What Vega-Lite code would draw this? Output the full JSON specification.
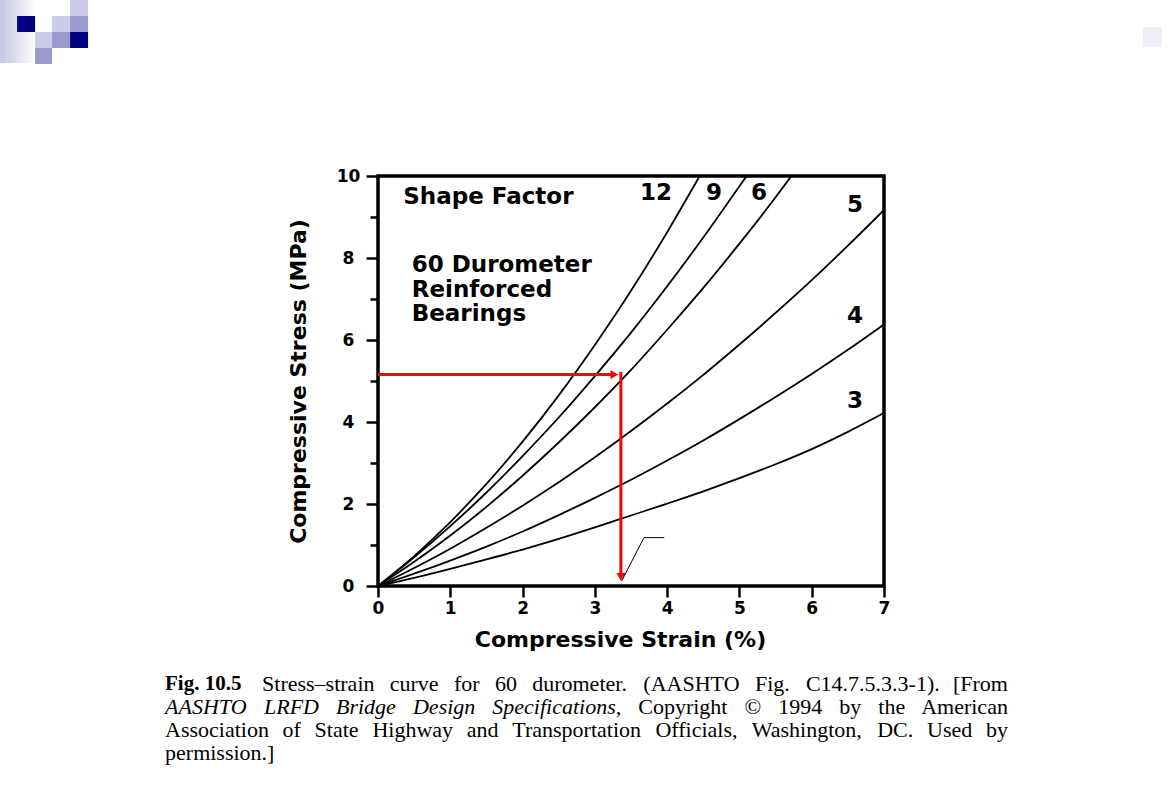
{
  "$schema": "https://vega.github.io/schema/vega-lite/v6.json",
  "width": 506,
  "height": 410,
  "autosize": {"type": "none"},
  "padding": {"left": 378, "top": 176, "right": 286, "bottom": 224},
  "background": "white",
  "config": {
    "view": {"stroke": "black", "strokeWidth": 3.5},
    "font": "DejaVu Sans"
  },
  "datasets": {
    "curves": [
      {"sf": "12", "x": 0, "y": 0}, {"sf": "12", "x": 0.5, "y": 0.73}, {"sf": "12", "x": 1, "y": 1.56}, {"sf": "12", "x": 1.5, "y": 2.49}, {"sf": "12", "x": 2, "y": 3.52}, {"sf": "12", "x": 2.5, "y": 4.65}, {"sf": "12", "x": 3, "y": 5.88}, {"sf": "12", "x": 3.5, "y": 7.2}, {"sf": "12", "x": 4, "y": 8.63}, {"sf": "12", "x": 4.45, "y": 10},
      {"sf": "9", "x": 0, "y": 0}, {"sf": "9", "x": 0.5, "y": 0.7}, {"sf": "9", "x": 1, "y": 1.46}, {"sf": "9", "x": 1.5, "y": 2.28}, {"sf": "9", "x": 2, "y": 3.17}, {"sf": "9", "x": 2.5, "y": 4.11}, {"sf": "9", "x": 3, "y": 5.12}, {"sf": "9", "x": 3.5, "y": 6.18}, {"sf": "9", "x": 4, "y": 7.31}, {"sf": "9", "x": 4.5, "y": 8.5}, {"sf": "9", "x": 5, "y": 9.75}, {"sf": "9", "x": 5.1, "y": 10},
      {"sf": "6", "x": 0, "y": 0}, {"sf": "6", "x": 0.5, "y": 0.59}, {"sf": "6", "x": 1, "y": 1.23}, {"sf": "6", "x": 1.5, "y": 1.93}, {"sf": "6", "x": 2, "y": 2.69}, {"sf": "6", "x": 2.5, "y": 3.5}, {"sf": "6", "x": 3, "y": 4.36}, {"sf": "6", "x": 3.5, "y": 5.27}, {"sf": "6", "x": 4, "y": 6.25}, {"sf": "6", "x": 4.5, "y": 7.27}, {"sf": "6", "x": 5, "y": 8.35}, {"sf": "6", "x": 5.5, "y": 9.48}, {"sf": "6", "x": 5.72, "y": 10},
      {"sf": "5", "x": 0, "y": 0}, {"sf": "5", "x": 0.5, "y": 0.44}, {"sf": "5", "x": 1, "y": 0.91}, {"sf": "5", "x": 1.5, "y": 1.42}, {"sf": "5", "x": 2, "y": 1.96}, {"sf": "5", "x": 2.5, "y": 2.53}, {"sf": "5", "x": 3, "y": 3.14}, {"sf": "5", "x": 3.5, "y": 3.78}, {"sf": "5", "x": 4, "y": 4.45}, {"sf": "5", "x": 4.5, "y": 5.15}, {"sf": "5", "x": 5, "y": 5.89}, {"sf": "5", "x": 5.5, "y": 6.66}, {"sf": "5", "x": 6, "y": 7.46}, {"sf": "5", "x": 6.5, "y": 8.3}, {"sf": "5", "x": 7, "y": 9.17},
      {"sf": "4", "x": 0, "y": 0}, {"sf": "4", "x": 0.5, "y": 0.3}, {"sf": "4", "x": 1, "y": 0.62}, {"sf": "4", "x": 1.5, "y": 0.96}, {"sf": "4", "x": 2, "y": 1.33}, {"sf": "4", "x": 2.5, "y": 1.73}, {"sf": "4", "x": 3, "y": 2.15}, {"sf": "4", "x": 3.5, "y": 2.59}, {"sf": "4", "x": 4, "y": 3.06}, {"sf": "4", "x": 4.5, "y": 3.55}, {"sf": "4", "x": 5, "y": 4.07}, {"sf": "4", "x": 5.5, "y": 4.61}, {"sf": "4", "x": 6, "y": 5.17}, {"sf": "4", "x": 6.5, "y": 5.76}, {"sf": "4", "x": 7, "y": 6.38},
      {"sf": "3", "x": 0, "y": 0}, {"sf": "3", "x": 0.5, "y": 0.2}, {"sf": "3", "x": 1, "y": 0.42}, {"sf": "3", "x": 1.5, "y": 0.65}, {"sf": "3", "x": 2, "y": 0.89}, {"sf": "3", "x": 2.5, "y": 1.15}, {"sf": "3", "x": 3, "y": 1.43}, {"sf": "3", "x": 3.5, "y": 1.72}, {"sf": "3", "x": 4, "y": 2.01}, {"sf": "3", "x": 4.5, "y": 2.31}, {"sf": "3", "x": 5, "y": 2.63}, {"sf": "3", "x": 5.5, "y": 2.97}, {"sf": "3", "x": 6, "y": 3.34}, {"sf": "3", "x": 6.5, "y": 3.76}, {"sf": "3", "x": 7, "y": 4.22}
    ],
    "strip": [{"x": -5.228, "x2": -4.73, "y": 14.293, "y2": 12.756}],
    "squares": [
      {"tone": "light", "x": -4.26, "x2": -4.011, "y": 14.293, "y2": 13.902},
      {"tone": "navy", "x": -4.993, "x2": -4.744, "y": 13.902, "y2": 13.512},
      {"tone": "light", "x": -4.509, "x2": -4.26, "y": 13.902, "y2": 13.512},
      {"tone": "medium", "x": -4.26, "x2": -4.011, "y": 13.902, "y2": 13.512},
      {"tone": "light", "x": -4.744, "x2": -4.509, "y": 13.512, "y2": 13.122},
      {"tone": "medium", "x": -4.509, "x2": -4.26, "y": 13.512, "y2": 13.122},
      {"tone": "navy", "x": -4.26, "x2": -4.011, "y": 13.512, "y2": 13.122},
      {"tone": "medium", "x": -4.744, "x2": -4.509, "y": 13.122, "y2": 12.732},
      {"tone": "faint", "x": 10.581, "x2": 10.844, "y": 13.634, "y2": 13.146}
    ],
    "redRules": [
      {"x": 0, "x2": 3.28, "y": 5.16, "y2": 5.16},
      {"x": 3.36, "x2": 3.36, "y": 5.22, "y2": 0.3}
    ],
    "arrowHeads": [
      {"dir": "right", "x": 3.27, "y": 5.16},
      {"dir": "down", "x": 3.36, "y": 0.22}
    ],
    "leader": [
      {"x": 3.37, "y": 0.12}, {"x": 3.68, "y": 1.18}, {"x": 3.96, "y": 1.18}
    ],
    "plotTextLeft": [
      {"t": "Shape Factor", "x": 0.35, "y": 9.5},
      {"t": "60 Durometer", "x": 0.466, "y": 7.83},
      {"t": "Reinforced", "x": 0.466, "y": 7.22},
      {"t": "Bearings", "x": 0.466, "y": 6.63}
    ],
    "plotTextCenter": [
      {"t": "12", "x": 3.845, "y": 9.58},
      {"t": "9", "x": 4.647, "y": 9.58},
      {"t": "6", "x": 5.27, "y": 9.58},
      {"t": "5", "x": 6.6, "y": 9.29},
      {"t": "4", "x": 6.6, "y": 6.585},
      {"t": "3", "x": 6.6, "y": 4.52}
    ],
    "capBold": [{"t": "Fig. 10.5", "x": -2.946, "y": -2.402}],
    "capItalic": [
      {"t": "AASHTO", "x": -2.946, "y": -2.951},
      {"t": "LRFD", "x": -1.577, "y": -2.951},
      {"t": "Bridge", "x": -0.581, "y": -2.951},
      {"t": "Design", "x": 0.484, "y": -2.951},
      {"t": "Specifications,", "x": 1.581, "y": -2.951}
    ],
    "capLeft": [
      {"t": "Stress–strain", "x": -1.604, "y": -2.402},
      {"t": "curve", "x": 0.162, "y": -2.402},
      {"t": "for", "x": 1.05, "y": -2.402},
      {"t": "60", "x": 1.617, "y": -2.402},
      {"t": "durometer.", "x": 2.133, "y": -2.402},
      {"t": "(AASHTO", "x": 3.671, "y": -2.402},
      {"t": "Fig.", "x": 5.214, "y": -2.402},
      {"t": "C14.7.5.3.3-1).", "x": 5.92, "y": -2.402},
      {"t": "Copyright", "x": 3.6, "y": -2.951},
      {"t": "©", "x": 5.069, "y": -2.951},
      {"t": "1994", "x": 5.537, "y": -2.951},
      {"t": "by", "x": 6.38, "y": -2.951},
      {"t": "the", "x": 6.921, "y": -2.951},
      {"t": "Association", "x": -2.946, "y": -3.512},
      {"t": "of", "x": -1.32, "y": -3.512},
      {"t": "State", "x": -0.877, "y": -3.512},
      {"t": "Highway", "x": -0.077, "y": -3.512},
      {"t": "and", "x": 1.228, "y": -3.512},
      {"t": "Transportation", "x": 1.858, "y": -3.512},
      {"t": "Officials,", "x": 3.838, "y": -3.512},
      {"t": "Washington,", "x": 5.17, "y": -3.512},
      {"t": "DC.", "x": 6.906, "y": -3.512},
      {"t": "Used", "x": 7.595, "y": -3.512},
      {"t": "permission.]", "x": -2.946, "y": -4.073}
    ],
    "capRight": [
      {"t": "[From", "x": 8.714, "y": -2.402},
      {"t": "American", "x": 8.714, "y": -2.951},
      {"t": "by", "x": 8.714, "y": -3.512}
    ]
  },
  "layer": [
    {
      "data": {"name": "curves"},
      "mark": {"type": "line", "color": "black", "strokeWidth": 1.8, "interpolate": "monotone"},
      "encoding": {
        "x": {
          "field": "x", "type": "quantitative",
          "scale": {"domain": [0, 7], "nice": false, "zero": false},
          "axis": {
            "title": "Compressive Strain (%)",
            "values": [0, 0.5, 1, 1.5, 2, 2.5, 3, 3.5, 4, 4.5, 5, 5.5, 6, 6.5, 7],
            "labelExpr": "datum.value % 1 === 0 ? format(datum.value, 'd') : ''",
            "domain": false, "grid": false,
            "tickColor": "black", "tickWidth": 2.5,
            "tickSize": {"condition": {"test": "datum.value % 1 === 0", "value": 11}, "value": 7},
            "labelPadding": 3,
            "labelFont": "DejaVu Sans", "labelFontWeight": "bold", "labelFontSize": 17, "labelColor": "black",
            "labelFlush": false, "labelOverlap": false, "labelBound": false,
            "titleFont": "DejaVu Sans", "titleFontWeight": "bold", "titleFontSize": 22, "titleColor": "black",
            "titlePadding": 13, "titleX": 242, "titleAlign": "center"
          }
        },
        "y": {
          "field": "y", "type": "quantitative",
          "scale": {"domain": [0, 10], "nice": false, "zero": false},
          "axis": {
            "title": "Compressive Stress (MPa)",
            "values": [0, 1, 2, 3, 4, 5, 6, 7, 8, 9, 10],
            "labelExpr": "datum.value % 2 === 0 ? format(datum.value, 'd') : ''",
            "domain": false, "grid": false,
            "tickColor": "black", "tickWidth": 2.5,
            "tickSize": {"condition": {"test": "datum.value % 2 === 0", "value": 12}, "value": 8},
            "labelAlign": "center", "labelBaseline": "middle", "labelPadding": 18,
            "labelFont": "DejaVu Sans", "labelFontWeight": "bold", "labelFontSize": 17, "labelColor": "black",
            "labelFlush": false, "labelOverlap": false, "labelBound": false,
            "titleFont": "DejaVu Sans", "titleFontWeight": "bold", "titleFontSize": 22, "titleColor": "black",
            "titlePadding": 26
          }
        },
        "detail": {"field": "sf", "type": "nominal"}
      }
    },
    {
      "data": {"name": "strip"},
      "mark": {"type": "rect", "fill": {"gradient": "linear", "x1": 0, "y1": 0, "x2": 1, "y2": 0, "stops": [{"offset": 0, "color": "#c4c4e3"}, {"offset": 1, "color": "#ffffff"}]}, "strokeWidth": 0},
      "encoding": {
        "x": {"field": "x", "type": "quantitative"},
        "x2": {"field": "x2"},
        "y": {"field": "y", "type": "quantitative"},
        "y2": {"field": "y2"}
      }
    },
    {
      "data": {"name": "squares"},
      "mark": {"type": "rect", "strokeWidth": 0},
      "encoding": {
        "x": {"field": "x", "type": "quantitative"},
        "x2": {"field": "x2"},
        "y": {"field": "y", "type": "quantitative"},
        "y2": {"field": "y2"},
        "color": {"field": "tone", "type": "nominal", "legend": null,
          "scale": {"domain": ["navy", "medium", "light", "faint"], "range": ["#000080", "#9999cc", "#ccccea", "#eeeef5"]}}
      }
    },
    {
      "data": {"name": "redRules"},
      "mark": {"type": "rule", "color": "#ff0000", "strokeWidth": 3},
      "encoding": {
        "x": {"field": "x", "type": "quantitative"},
        "x2": {"field": "x2"},
        "y": {"field": "y", "type": "quantitative"},
        "y2": {"field": "y2"}
      }
    },
    {
      "data": {"name": "arrowHeads"},
      "mark": {"type": "point", "filled": true, "color": "#ff0000", "opacity": 1, "size": 80},
      "encoding": {
        "x": {"field": "x", "type": "quantitative"},
        "y": {"field": "y", "type": "quantitative"},
        "shape": {"field": "dir", "type": "nominal", "legend": null,
          "scale": {"domain": ["right", "down"], "range": ["triangle-right", "triangle-down"]}}
      }
    },
    {
      "data": {"name": "leader"},
      "mark": {"type": "line", "color": "black", "strokeWidth": 1},
      "encoding": {
        "x": {"field": "x", "type": "quantitative"},
        "y": {"field": "y", "type": "quantitative"}
      }
    },
    {
      "data": {"name": "plotTextLeft"},
      "mark": {"type": "text", "align": "left", "baseline": "middle", "font": "DejaVu Sans", "fontWeight": "bold", "fontSize": 23, "color": "black"},
      "encoding": {
        "x": {"field": "x", "type": "quantitative"},
        "y": {"field": "y", "type": "quantitative"},
        "text": {"field": "t"}
      }
    },
    {
      "data": {"name": "plotTextCenter"},
      "mark": {"type": "text", "align": "center", "baseline": "middle", "font": "DejaVu Sans", "fontWeight": "bold", "fontSize": 23, "color": "black"},
      "encoding": {
        "x": {"field": "x", "type": "quantitative"},
        "y": {"field": "y", "type": "quantitative"},
        "text": {"field": "t"}
      }
    },
    {
      "data": {"name": "capBold"},
      "mark": {"type": "text", "align": "left", "baseline": "middle", "font": "Liberation Serif", "fontWeight": "bold", "fontSize": 21, "color": "black"},
      "encoding": {
        "x": {"field": "x", "type": "quantitative"},
        "y": {"field": "y", "type": "quantitative"},
        "text": {"field": "t"}
      }
    },
    {
      "data": {"name": "capItalic"},
      "mark": {"type": "text", "align": "left", "baseline": "middle", "font": "Liberation Serif", "fontStyle": "italic", "fontSize": 22, "color": "black"},
      "encoding": {
        "x": {"field": "x", "type": "quantitative"},
        "y": {"field": "y", "type": "quantitative"},
        "text": {"field": "t"}
      }
    },
    {
      "data": {"name": "capLeft"},
      "mark": {"type": "text", "align": "left", "baseline": "middle", "font": "Liberation Serif", "fontSize": 22, "color": "black"},
      "encoding": {
        "x": {"field": "x", "type": "quantitative"},
        "y": {"field": "y", "type": "quantitative"},
        "text": {"field": "t"}
      }
    },
    {
      "data": {"name": "capRight"},
      "mark": {"type": "text", "align": "right", "baseline": "middle", "font": "Liberation Serif", "fontSize": 22, "color": "black"},
      "encoding": {
        "x": {"field": "x", "type": "quantitative"},
        "y": {"field": "y", "type": "quantitative"},
        "text": {"field": "t"}
      }
    }
  ]
}
